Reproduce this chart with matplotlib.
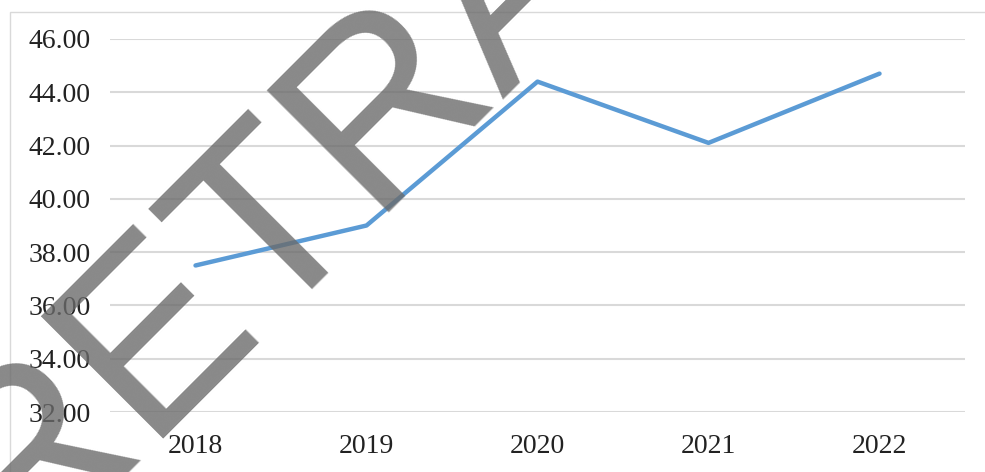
import matplotlib.pyplot as plt
from matplotlib.patches import Rectangle

# data
years = ["2018", "2019", "2020", "2021", "2022"]
values = [37.5, 39.0, 44.4, 42.1, 44.7]
y_ticks = [32, 34, 36, 38, 40, 42, 44, 46]
watermark = "RETRACTED"

plt.rcParams['font.family'] = ['Liberation Serif', 'DejaVu Serif']

fig = plt.figure(figsize=(9.85, 4.72), dpi=100)
ax = fig.add_axes([0.1117, 0.1271, 0.868, 0.7903])

x = range(len(years))
ax.plot(x, values, color='#5B9BD5', linewidth=3.2, solid_capstyle='round', zorder=3)

ax.set_xlim(-0.5, len(years) - 0.5)
ax.set_ylim(32, 46)
ax.set_xticks(list(x))
ax.set_xticklabels(years)
ax.set_yticks(y_ticks)
ax.set_yticklabels([f"{v:.2f}" for v in y_ticks])
ax.tick_params(axis='both', length=0, labelsize=20, colors='#222222')
ax.tick_params(axis='y', pad=14)
ax.tick_params(axis='x', pad=16)

ax.grid(axis='y', color='#d9d9d9', linewidth=1.5)
ax.set_axisbelow(True)
for s in ax.spines.values():
    s.set_visible(False)

# chart area border
fig.patches.append(Rectangle((10 / 985, -0.1), 1.2, 1 - 12 / 472 + 0.1,
                             transform=fig.transFigure, fill=False,
                             edgecolor='#d9d9d9', linewidth=1))

# watermark
fig.text(16 / 985, 1 - 566 / 472, watermark, family='Liberation Sans',
         fontsize=180, color='#6b6b6b', alpha=0.8, rotation=45,
         rotation_mode='anchor', ha='left', va='baseline', zorder=10)

fig.savefig("out.png", dpi=100)
